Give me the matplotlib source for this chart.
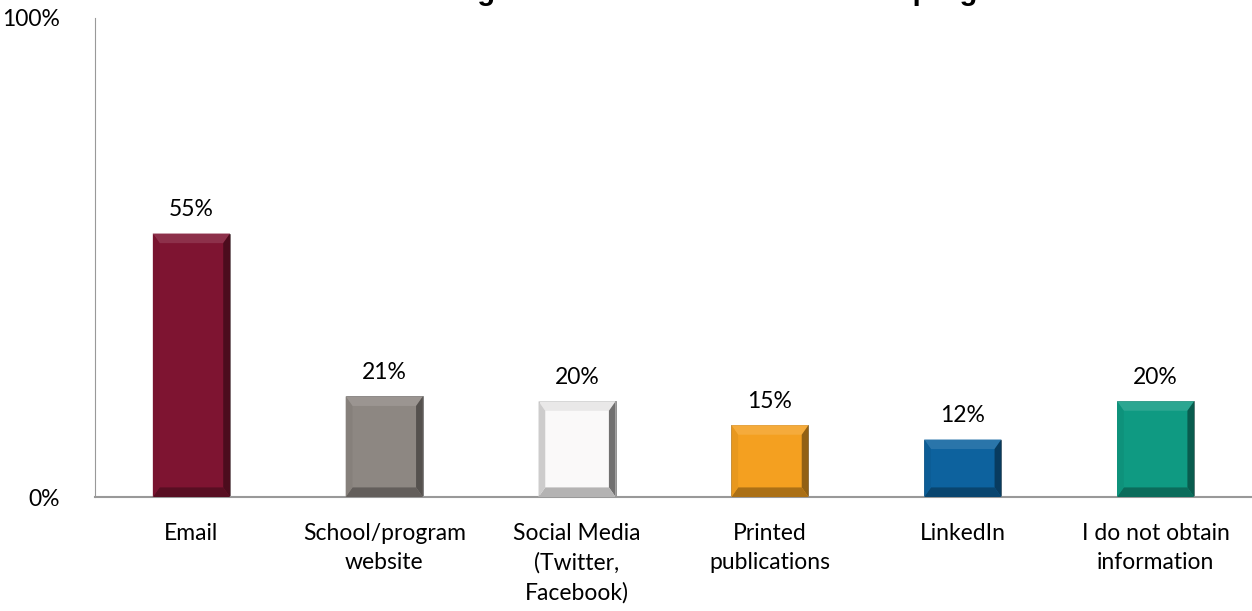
import numpy as np
import matplotlib.pyplot as plt
from matplotlib.patches import Polygon
import matplotlib.colors as mcolors

# survey results
categories = ["Email", "School/program\nwebsite", "Social Media\n(Twitter,\nFacebook)",
              "Printed\npublications", "LinkedIn", "I do not obtain\ninformation"]
values = [0.55, 0.21, 0.20, 0.15, 0.12, 0.20]
colors = ["#7E1431", "#8D8782", "#FAF9F9", "#F4A020", "#0D629E", "#0F9A82"]
title = "Obtaining information about the school/program"

fig = plt.figure(figsize=(12.52, 6.11), dpi=100)
ax = fig.add_axes([95/1252, 114/611, 1-95/1252, (497-18)/611])

x = np.arange(len(values))
bars = ax.bar(x, values, width=0.40, color=colors, edgecolor="#666666", linewidth=0.5, zorder=2)

# bevel effect: light top, dark right/bottom
bx = 0.035
by = 0.02
for b, c, v in zip(bars, colors, values):
	x0, y0 = b.get_x(), b.get_y()
	x1, y1 = x0 + b.get_width(), y0 + b.get_height()
	rgb = np.array(mcolors.to_rgb(c))
	if c == "#FAF9F9":
		top, right, bottom, left = rgb*0.93, rgb*0.45, rgb*0.72, rgb*0.82
	else:
		top = np.clip(rgb + (1 - rgb) * 0.12, 0, 1)
		right, bottom, left = rgb*0.6, rgb*0.7, rgb*0.95
	faces = [
		([(x0, y1), (x1, y1), (x1-bx, y1-by), (x0+bx, y1-by)], top),
		([(x1, y1), (x1, y0), (x1-bx, y0+by), (x1-bx, y1-by)], right),
		([(x0, y0), (x1, y0), (x1-bx, y0+by), (x0+bx, y0+by)], bottom),
		([(x0, y0), (x0, y1), (x0+bx, y1-by), (x0+bx, y0+by)], left),
	]
	for pts, fc in faces:
		ax.add_patch(Polygon(pts, closed=True, facecolor=fc, edgecolor="none", zorder=3))
	ax.text(b.get_x() + b.get_width()/2, y1 + 0.028, "%d%%" % round(v*100),
		ha="center", va="bottom", fontsize=16.5, family="Lato")

ax.set_xlim(-0.5, len(values)-0.5)
ax.set_ylim(0, 1)
ax.set_yticks([0, 1])
ax.set_yticklabels(["0%", "100%"], fontsize=16.5, family="Lato")
ax.set_xticks(x)
ax.set_xticklabels(categories, fontsize=16.5, family="Lato", linespacing=1.45, va="top")
ax.tick_params(axis="both", length=0)
ax.tick_params(axis="x", pad=19)
ax.tick_params(axis="y", pad=25)
for s in ["top", "right"]:
	ax.spines[s].set_visible(False)
ax.spines["left"].set_color("#999999")
ax.spines["bottom"].set_color("#999999")
ax.spines["bottom"].set_linewidth(1.5)

fig.text(359/1252, 1.0, title, ha="left", va="baseline", fontsize=21,
	fontweight="bold", family="Liberation Sans")

fig.savefig("out.png", dpi=100)
